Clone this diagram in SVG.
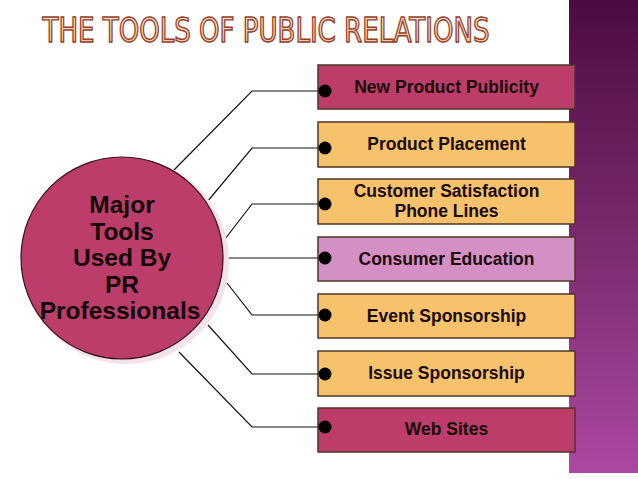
<svg xmlns="http://www.w3.org/2000/svg" width="638" height="479" viewBox="0 0 638 479">
<defs>
<linearGradient id="band" x1="0" y1="0" x2="0" y2="1">
<stop offset="0" stop-color="#4b0c40"/>
<stop offset="0.5" stop-color="#7a2a6e"/>
<stop offset="1" stop-color="#ad48a2"/>
</linearGradient>
<linearGradient id="titleFill" x1="0" y1="0" x2="0" y2="1">
<stop offset="0" stop-color="#fdf0e4"/>
<stop offset="1" stop-color="#f4bc90"/>
</linearGradient>
<style>
.box{stroke:#4e3626;stroke-width:1.5}
.pink{fill:#bc3d69}
.orange{fill:#f6c26c}
.lilac{fill:#d48fc5}
.lbl{font-family:"Liberation Sans",Arial,sans-serif;font-weight:bold;font-size:17.5px;fill:#1a0a0a;text-anchor:middle}
.ctr{font-family:"Liberation Sans",Arial,sans-serif;font-weight:bold;font-size:24.5px;fill:#120608;text-anchor:middle}
.conn{stroke:#111;stroke-width:1.2;fill:none}
.dot{fill:#000}
</style>
</defs>
<rect x="0" y="0" width="638" height="479" fill="#ffffff"/>
<rect x="569" y="0" width="69" height="473" fill="url(#band)"/>
<text x="266" y="42" font-family="'Liberation Sans Narrow','DejaVu Sans Condensed',sans-serif" font-size="33" text-anchor="middle" textLength="447" lengthAdjust="spacingAndGlyphs" fill="url(#titleFill)" stroke="#953e28" stroke-width="1.4">THE TOOLS OF PUBLIC RELATIONS</text>

<g id="connectors">
<polyline class="conn" points="173,171 252,91 325,91"/>
<polyline class="conn" points="207,202 252,148 325,148"/>
<polyline class="conn" points="225,239 252,204 325,204"/>
<polyline class="conn" points="223,258 325,258"/>
<polyline class="conn" points="227,283 252,315 325,315"/>
<polyline class="conn" points="208,325 252,374 325,374"/>
<polyline class="conn" points="179,352 252,427 325,427"/>
</g>

<g id="center">
<circle cx="126" cy="261" r="103" fill="#f3e2ea"/>
<circle cx="122" cy="258" r="101" fill="#bc3d69" stroke="#3a1020" stroke-width="1.2"/>
<text class="ctr" x="122" y="213">Major</text>
<text class="ctr" x="122" y="239.5">Tools</text>
<text class="ctr" x="122" y="266">Used By</text>
<text class="ctr" x="122" y="292.5">PR</text>
<text class="ctr" x="120" y="319">Professionals</text>
</g>

<g id="n1"><rect class="box pink" x="318" y="65" width="257" height="44"/><circle class="dot" cx="325" cy="91" r="6.5"/><text class="lbl" x="446.5" y="93">New Product Publicity</text></g>
<g id="n2"><rect class="box orange" x="318" y="122" width="257" height="45"/><circle class="dot" cx="325" cy="148" r="6.5"/><text class="lbl" x="446.5" y="150">Product Placement</text></g>
<g id="n3"><rect class="box orange" x="318" y="179" width="257" height="45"/><circle class="dot" cx="325" cy="204" r="6.5"/><text class="lbl" x="446.5" y="197">Customer Satisfaction</text><text class="lbl" x="446.5" y="216.5">Phone Lines</text></g>
<g id="n4"><rect class="box lilac" x="318" y="237" width="257" height="44"/><circle class="dot" cx="325" cy="258" r="6.5"/><text class="lbl" x="446.5" y="265">Consumer Education</text></g>
<g id="n5"><rect class="box orange" x="318" y="294" width="257" height="44"/><circle class="dot" cx="325" cy="315" r="6.5"/><text class="lbl" x="446.5" y="322">Event Sponsorship</text></g>
<g id="n6"><rect class="box orange" x="318" y="351" width="257" height="45"/><circle class="dot" cx="325" cy="374" r="6.5"/><text class="lbl" x="446.5" y="379">Issue Sponsorship</text></g>
<g id="n7"><rect class="box pink" x="318" y="408" width="257" height="44"/><circle class="dot" cx="325" cy="427" r="6.5"/><text class="lbl" x="446.5" y="435">Web Sites</text></g>
</svg>
